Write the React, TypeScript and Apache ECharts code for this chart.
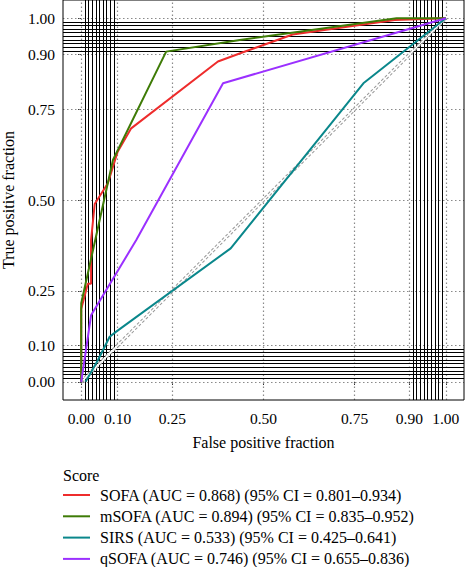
import { useEffect, useRef } from "react";
import * as echarts from "echarts";

const majorBreaks = [0, 0.1, 0.25, 0.5, 0.75, 0.9, 1];
const minorBreaks = [
  0.01, 0.02, 0.03, 0.04, 0.05, 0.06, 0.07, 0.08, 0.09,
  0.91, 0.92, 0.93, 0.94, 0.95, 0.96, 0.97, 0.98, 0.99,
];

const scoreNames = ["SOFA", "mSOFA", "SIRS", "qSOFA"];
const aucValues = ["0.868", "0.894", "0.533", "0.746"];
const ciLower = ["0.801", "0.835", "0.425", "0.655"];
const ciUpper = ["0.934", "0.952", "0.641", "0.836"];
const colors = ["#EE2C2C", "#3E7B06", "#0A878B", "#9B30FF"];

const sofaFpr = [0, 0, 0.018, 0.027, 0.027, 0.037, 0.073, 0.1, 0.137, 0.375, 0.44, 0.58, 0.86, 1];
const sofaTpr = [0, 0.2, 0.27, 0.27, 0.39, 0.489, 0.546, 0.633, 0.697, 0.881, 0.905, 0.955, 0.995, 1];

const msofaFpr = [0, 0, 0.087, 0.233, 0.435, 0.865, 1];
const msofaTpr = [0, 0.216, 0.61, 0.908, 0.94, 1, 1];

const sirsFpr = [0.012, 0.046, 0.078, 0.096, 0.41, 0.774, 1];
const sirsTpr = [0, 0.06, 0.124, 0.138, 0.367, 0.821, 1];

const qsofaFpr = [0, 0.027, 0.151, 0.389, 1];
const qsofaTpr = [0, 0.183, 0.39, 0.821, 1];

const curveFpr = [sofaFpr, msofaFpr, sirsFpr, qsofaFpr];
const curveTpr = [sofaTpr, msofaTpr, sirsTpr, qsofaTpr];

const FONT = "'Liberation Serif', 'DejaVu Serif', serif";

export default function App() {
  const ref = useRef<HTMLDivElement>(null);

  useEffect(() => {
    if (!ref.current) return;
    const chart = echarts.init(ref.current, undefined, { renderer: "svg" });

    const labels = scoreNames.map(
      (n, i) => `${n} (AUC = ${aucValues[i]}) (95% CI = ${ciLower[i]}\u2013${ciUpper[i]})`
    );

    const curveSeries = labels.map((name, i) => ({
      name,
      type: "line",
      data: curveFpr[i].map((x, j) => [x, curveTpr[i][j]]),
      showSymbol: false,
      symbol: "none",
      lineStyle: { color: colors[i], width: 2 },
      itemStyle: { color: colors[i] },
      z: 10 + i,
      silent: true,
    }));

    const legends = labels.map((name, i) => ({
      data: [name],
      orient: "vertical",
      left: 63,
      top: 487 + i * 21.3,
      padding: 0,
      icon: "rect",
      itemWidth: 27,
      itemHeight: 2,
      textStyle: {
        fontFamily: FONT,
        fontSize: 16,
        lineHeight: 16,
        color: "#000",
        padding: [0, 0, 0, 5],
      },
      selectedMode: false,
    }));

    const axisCommon = {
      type: "value",
      min: -0.05,
      max: 1.05,
      axisLine: { show: false },
      splitLine: { show: false },
      axisTick: {
        show: true,
        customValues: majorBreaks,
        length: 3,
        lineStyle: { color: "#000", width: 1 },
      },
      axisLabel: {
        customValues: majorBreaks,
        formatter: (v: number) => v.toFixed(2),
        fontFamily: FONT,
        fontSize: 15.5,
        color: "#000",
      },
      nameLocation: "middle",
      nameTextStyle: { fontFamily: FONT, fontSize: 16, color: "#000" },
    };

    chart.setOption({
      animation: false,
      backgroundColor: "#fff",
      grid: {
        left: 63,
        right: 1,
        top: 0,
        bottom: 167,
        outerBoundsMode: "none",
        containLabel: false,
        show: true,
        borderColor: "#000",
        borderWidth: 1,
        backgroundColor: "transparent",
        z: 20,
      },
      xAxis: {
        ...axisCommon,
        name: "False positive fraction",
        nameGap: 34,
        axisLabel: { ...axisCommon.axisLabel, margin: 10 },
      },
      yAxis: {
        ...axisCommon,
        name: "True positive fraction",
        nameGap: 46,
        axisLabel: { ...axisCommon.axisLabel, margin: 8 },
      },
      legend: legends,
      graphic: [
        {
          type: "text",
          left: 63,
          top: 467,
          style: { text: "Score", font: `16px ${FONT}`, fill: "#000" },
        },
      ],
      series: [
        {
          name: "majorGrid",
          type: "line",
          data: [],
          silent: true,
          z: 1,
          markLine: {
            silent: true,
            symbol: ["none", "none"],
            label: { show: false },
            animation: false,
            lineStyle: { color: "#8a8a8a", width: 1.2, type: [1.5, 2.5] },
            emphasis: { disabled: true },
            data: [
              ...majorBreaks.map((v) => ({ xAxis: v })),
              ...majorBreaks.map((v) => ({ yAxis: v })),
            ],
          },
        },
        {
          name: "minorGrid",
          type: "line",
          data: [],
          silent: true,
          z: 2,
          markLine: {
            silent: true,
            symbol: ["none", "none"],
            label: { show: false },
            animation: false,
            lineStyle: { color: "#000", width: 1, type: "solid" },
            emphasis: { disabled: true },
            data: [
              ...minorBreaks.map((v) => ({ xAxis: v })),
              ...minorBreaks.map((v) => ({ yAxis: v })),
            ],
          },
        },
        {
          name: "refOuter",
          type: "line",
          data: [
            [0, 0],
            [1, 1],
          ],
          symbol: "none",
          silent: true,
          z: 5,
          lineStyle: { color: "#9a9a9a", width: 3.5, type: [3, 2] },
        },
        {
          name: "refInner",
          type: "line",
          data: [
            [0, 0],
            [1, 1],
          ],
          symbol: "none",
          silent: true,
          z: 6,
          lineStyle: { color: "#fff", width: 1.5, type: "solid" },
        },
        ...curveSeries,
      ],
    });

    return () => chart.dispose();
  }, []);

  return (
    <div
      ref={ref}
      style={{ position: "fixed", left: 0, top: 0, width: 465, height: 567, background: "#fff" }}
    />
  );
}
